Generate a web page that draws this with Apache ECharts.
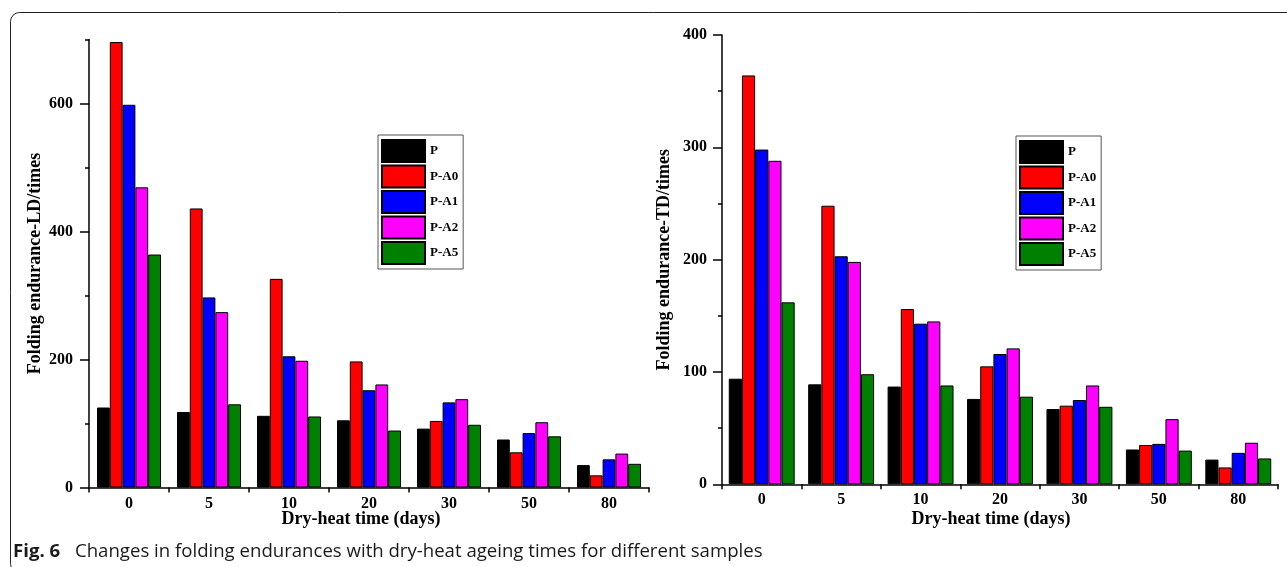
<!DOCTYPE html>
<html><head><meta charset="utf-8">
<script src="https://cdn.jsdelivr.net/npm/echarts@6/dist/echarts.min.js"></script>
<style>html,body{margin:0;padding:0;background:#fff}#c{width:1287px;height:567px}</style>
</head><body><div id="c"></div>
<script>
// ---- data ----
const categories = ['0', '5', '10', '20', '30', '50', '80'];
const seriesNames = ['P', 'P-A0', 'P-A1', 'P-A2', 'P-A5'];
// Folding endurance - LD (left panel)
const ld_P   = [125, 118, 112, 105,  92,  75, 35];
const ld_PA0 = [696, 436, 326, 197, 104,  55, 19];
const ld_PA1 = [598, 297, 205, 152, 133,  85, 44];
const ld_PA2 = [469, 274, 198, 161, 138, 102, 53];
const ld_PA5 = [364, 130, 111,  89,  98,  80, 37];
// Folding endurance - TD (right panel)
const td_P   = [ 94,  89,  87,  76, 67, 31, 22];
const td_PA0 = [364, 248, 156, 105, 70, 35, 15];
const td_PA1 = [298, 203, 143, 116, 75, 36, 28];
const td_PA2 = [288, 198, 145, 121, 88, 58, 37];
const td_PA5 = [162,  98,  88,  78, 69, 30, 23];
// tick labels
const ldTickLabels = [0, 200, 400, 600];
const tdTickLabels = [0, 100, 200, 300, 400];
const xTitle = 'Dry-heat time (days)';
const ldTitle = 'Folding endurance-LD/times';
const tdTitle = 'Folding endurance-TD/times';
const captionBold = 'Fig. 6';
const captionText = 'Changes in folding endurances with dry-heat ageing times for different samples';

// ---- styling ----
const colors = ['#000000', '#ff0000', '#0000ff', '#ff00ff', '#008000'];
const SERIF = '"Liberation Serif", "Times New Roman", serif';
const ldData = [ld_P, ld_PA0, ld_PA1, ld_PA2, ld_PA5];
const tdData = [td_P, td_PA0, td_PA1, td_PA2, td_PA5];

const lineStyle = { color: '#000', width: 1.5 };
const tickFont = { fontFamily: SERIF, fontWeight: 'bold', fontSize: 16, color: '#000' };
const titleFont = { fontFamily: SERIF, fontWeight: 'bold', fontSize: 18, color: '#000' };

function xAxis(gi, padRight, gap) {
  return {
    type: 'category', gridIndex: gi, data: categories, position: 'bottom',
    axisLine: { show: true, lineStyle: lineStyle },
    axisTick: { show: true, length: 5, lineStyle: lineStyle },
    axisLabel: Object.assign({ margin: 8 }, tickFont),
    splitLine: { show: false },
    name: xTitle, nameLocation: 'middle', nameGap: gap, nameMoveOverlap: false,
    nameTextStyle: Object.assign({ padding: [0, padRight, 0, 0] }, titleFont)
  };
}
function yAxes(gi, max, minorInt, labels, margin, title, gap) {
  return [
    {
      type: 'value', gridIndex: gi, position: 'left', offset: 0, min: 0, max: max, interval: minorInt,
      axisLine: { show: true, lineStyle: lineStyle },
      axisTick: { show: true, length: 4, lineStyle: lineStyle },
      axisLabel: { show: false },
      splitLine: { show: false },
      name: title, nameLocation: 'middle', nameGap: gap, nameMoveOverlap: false,
      nameTextStyle: titleFont
    },
    {
      type: 'value', gridIndex: gi, position: 'left', offset: 0, min: 0, max: max, interval: minorInt,
      axisLine: { show: false },
      axisTick: { show: true, length: 9, customValues: labels, lineStyle: lineStyle },
      axisLabel: Object.assign({ customValues: labels, margin: margin }, tickFont),
      splitLine: { show: false }
    }
  ];
}

const series = [];
seriesNames.forEach((n, i) => {
  series.push({
    name: n, type: 'bar', xAxisIndex: 0, yAxisIndex: 0, data: ldData[i],
    barGap: '0%', barCategoryGap: '20%',
    itemStyle: { color: colors[i], borderColor: '#000', borderWidth: 1 }
  });
});
seriesNames.forEach((n, i) => {
  series.push({
    name: n, type: 'bar', xAxisIndex: 1, yAxisIndex: 2, data: tdData[i],
    barGap: '0%', barCategoryGap: '17%',
    itemStyle: { color: colors[i], borderColor: '#000', borderWidth: 1 }
  });
});

const legendBase = {
  orient: 'vertical', data: seriesNames, icon: 'rect',
  itemWidth: 43, itemHeight: 22, itemGap: 1.5,
  borderColor: '#555', borderWidth: 1, padding: [4, 5, 4, 3],
  textStyle: { fontFamily: SERIF, fontWeight: 'bold', fontSize: 13, color: '#000' },
  selectedMode: false
};

const option = {
  animation: false,
  backgroundColor: '#fff',
  grid: [
    { left: 89, top: 39.5, width: 560, height: 448, containLabel: false },
    { left: 722, top: 35, width: 556, height: 449.3, containLabel: false }
  ],
  xAxis: [xAxis(0, 16, 22.5), xAxis(1, 18, 26.5)],
  yAxis: [].concat(
    yAxes(0, 700, 100, ldTickLabels, 16, ldTitle, 45),
    yAxes(1, 400, 50, tdTickLabels, 15, tdTitle, 48.5)
  ),
  legend: [
    Object.assign({ left: 378, top: 135 }, legendBase),
    Object.assign({ left: 1016, top: 136 }, legendBase)
  ],
  series: series,
  graphic: [
    { type: 'rect', silent: true, shape: { x: 10.5, y: 12.5, width: 1400, height: 560, r: 9 },
      style: { fill: 'none', stroke: '#222', lineWidth: 1 } },
    { type: 'text', left: 13, top: 542, silent: true,
      style: { text: captionBold, font: 'bold 18.6px "Open Sans", sans-serif', fill: '#1a1a1a' } },
    { type: 'text', left: 75, top: 542, silent: true,
      style: { text: captionText, font: '18.6px "Open Sans", sans-serif', fill: '#1a1a1a' } }
  ]
};

const chart = echarts.init(document.getElementById('c'), null, { renderer: 'canvas' });
chart.setOption(option);
</script>
</body></html>
